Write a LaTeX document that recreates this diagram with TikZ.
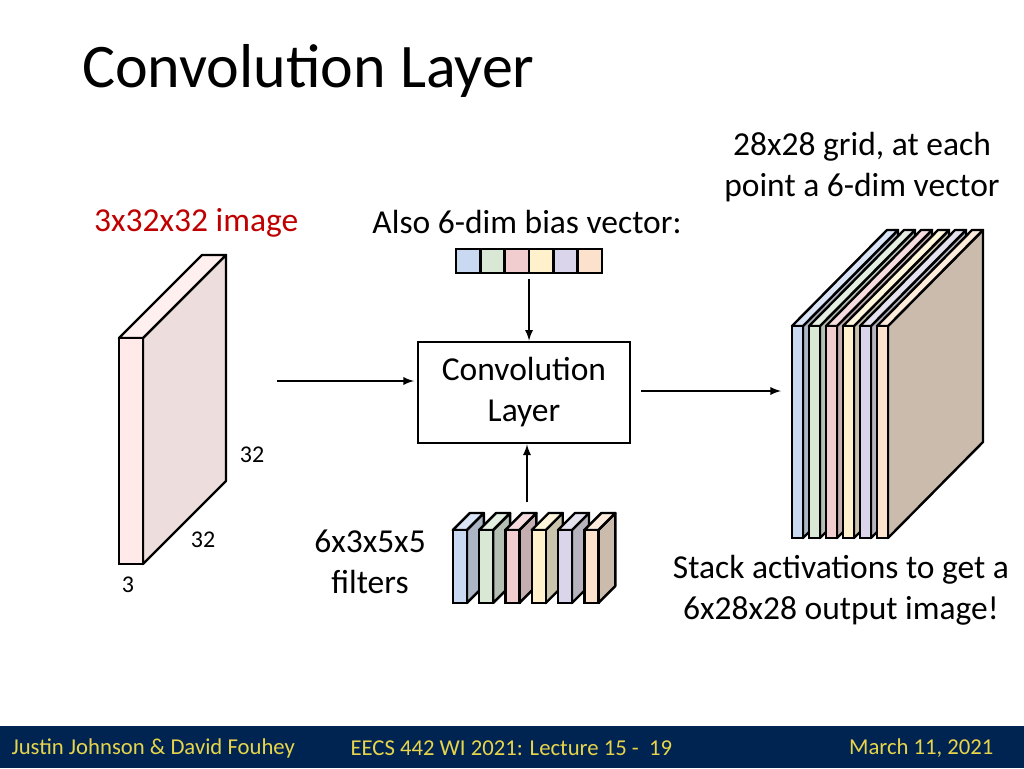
\documentclass[tikz,border=0pt]{standalone}
\usepackage{fontspec}
\setmainfont{Carlito}
\usetikzlibrary{positioning}
\definecolor{navy}{HTML}{002452}
\definecolor{gold}{HTML}{E8D44A}
\definecolor{imgred}{HTML}{C00000}
\definecolor{cblue}{HTML}{C9D9F2}
\definecolor{cgreen}{HTML}{D8E8D4}
\definecolor{cpink}{HTML}{F2CDD0}
\definecolor{cyellow}{HTML}{FEF1CB}
\definecolor{clav}{HTML}{DAD5EA}
\definecolor{cpeach}{HTML}{FCE2CC}
\tikzset{
  body/.style={font=\fontsize{33.5}{41}\selectfont, align=center},
  dimlabel/.style={font=\fontsize{24}{28}\selectfont},
  foot/.style={font=\fontsize{22.7}{26}\selectfont, text=gold, anchor=west},
  cell/.style={draw, line width=2.6pt, minimum width=24.3pt, minimum height=24pt, inner sep=0pt},
  arr/.style={-latex, line width=2.6pt},
}
% slab: x, ytop, front width, height, depth dx, depth dy, colour
\newcommand{\slab}[7]{%
  \filldraw[fill=#7!75!black!80!white, line width=2.4pt, line join=round]
    (#1+#3,#2) -- ++(#5,-#6) -- ++(0,#4) -- ++(-#5,#6) -- cycle;
  \filldraw[fill=#7!70!white, line width=2.4pt, line join=round]
    (#1,#2) -- ++(#5,-#6) -- ++(#3,0) -- ++(-#5,#6) -- cycle;
  \filldraw[fill=#7, line width=2.4pt] (#1,#2) rectangle ++(#3,#4);
}
\begin{document}
\begin{tikzpicture}[x=1pt, y=-1pt]
	\useasboundingbox (0,0) rectangle (1024,768);
	% title
	\node[anchor=base west, inner sep=0pt, font=\fontsize{62}{72}\selectfont] (title) at (82,87) {Convolution Layer};
	
	% input image
	\colorlet{imgpink}{pink!35!white}
	\filldraw[fill=imgpink!85!gray!90!white, line width=2.4pt, line join=round]
	  (143,338) -- (226,255) -- (226,481) -- (143,564) -- cycle;
	\filldraw[fill=imgpink!70!white, line width=2.4pt, line join=round]
	  (119,338) -- (202,255) -- (226,255) -- (143,338) -- cycle;
	\filldraw[fill=imgpink, line width=2.4pt] (119,338) rectangle (143,564);
	\node[body, text=imgred, anchor=base west, inner sep=0pt] (imglabel) at (94,231) {3x32x32 image};
	\node[dimlabel] (h) at (252,455) {32};
	\node[dimlabel] (w) at (203,540) {32};
	\node[dimlabel] (d) at (128,585) {3};
	
	% convolution layer
	\node[draw, line width=2.8pt, minimum width=212pt, minimum height=101pt, body] (conv) at (524,392.5) {Convolution\\Layer};
	\coordinate (inarrow) at (277,381);
	\coordinate (outarrow) at (781,391);
	\draw[arr] (inarrow) -- (414,381) coordinate (inend);
	\draw[arr] (641,391) -- (outarrow);
	
	% bias vector
	\node[body, anchor=base] (biaslabel) at (527,233) {Also 6-dim bias vector:};
	\foreach \c [count=\i] in {cblue,cgreen,cpink,cyellow,clav,cpeach}
	  \node[cell, fill=\c] (b\i) at (444+\i*24.3,261) {};
	\path (b3.south east) -- (b4.south west) coordinate[midway] (bmid);
	\draw[arr] (bmid) ++(0,5) -- (conv.north -| bmid);
	
	% filters
	\foreach \c [count=\i] in {cblue,cgreen,cpink,cyellow,clav,cpeach}
	  \slab{426.5+\i*26.3}{530}{14}{73}{17}{17}{\c};
	\coordinate (ftop) at (527,502);
	\draw[arr] (ftop) -- (conv.south -| ftop);
	\node[body] (flabel) at (370,562) {6x3x5x5\\filters};
	
	% output stack
	\foreach \c [count=\i] in {cblue,cgreen,cpink,cyellow,clav,cpeach}
	  \slab{775+\i*17}{326}{11}{212}{95}{96}{\c};
	\node[body] (gridlabel) at (862,167) {28x28 grid, at each\\point a 6-dim vector};
	\node[body] (outlabel) at (841,590) {Stack activations to get a\\6x28x28 output image!};
	
	% footer
	\fill[navy] (0,726) rectangle (1024,768);
	\node[foot] (authors) at (8,748) {Justin Johnson \& David Fouhey};
	\node[foot] (lecture) at (347,748) {EECS 442 WI 2021: Lecture 15 -\ \ 19};
	\node[foot, anchor=east] (date) at (997,748) {March 11, 2021};
\end{tikzpicture}
\end{document}
